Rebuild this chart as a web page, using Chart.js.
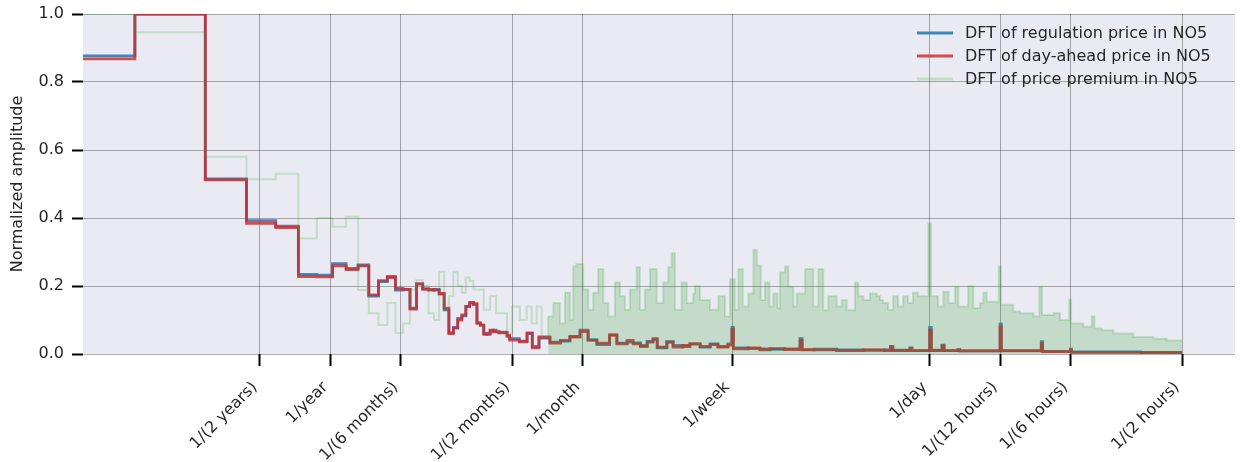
<!DOCTYPE html>
<html>
<head>
<meta charset="utf-8">
<script src="https://cdn.jsdelivr.net/npm/chart.js@4.4.1/dist/chart.umd.min.js"></script>
<style>
  html, body { margin: 0; padding: 0; background: #fff; }
  #wrap { width: 1240px; height: 462px; }
</style>
</head>
<body>
<div id="wrap"><canvas id="dftChart" width="1240" height="462"></canvas></div>
<script>
"use strict";

// bin k = k cycles over the whole record (hourly prices, ~60000 h)
const RECORD_HOURS = 60000;

const tickPeriods = [17520, 8760, 4380, 1460, 730, 168, 24, 12, 6, 2];
const tickLabels = [
  "1/(2 years)", "1/year", "1/(6 months)", "1/(2 months)", "1/month",
  "1/week", "1/day", "1/(12 hours)", "1/(6 hours)", "1/(2 hours)",
];

// first entry is the DC term, drawn off the left edge
const priceBins = [
  0.5, 1, 2, 3, 4, 5, 6, 7, 8, 9,
  10, 11, 12, 13, 14, 15, 16, 17, 18, 19,
  20, 21, 22, 23, 24, 25, 26, 27, 28, 29,
  30, 31, 32, 33, 34, 35, 36, 39, 40, 44,
  47.5, 50, 53.4, 59.5, 66, 72.4, 80, 86.6, 94.5, 107,
  115, 127, 135, 145, 155, 164, 171, 188, 200, 220,
  236, 261, 288, 311, 343, 357, 362, 420, 470, 520,
  600, 698, 712, 800, 1000, 1300, 1600, 1700, 1740, 2060,
  2100, 2500, 2540, 2824, 2880, 3300, 3360, 5000, 5060, 7500,
  7600, 10000, 10100, 20000, 30000,
];
const regulationDft = [
  0.877, 1.0, 0.515, 0.392, 0.376, 0.234, 0.232, 0.266, 0.252, 0.262,
  0.17, 0.213, 0.228, 0.188, 0.19, 0.135, 0.206, 0.192, 0.188, 0.19,
  0.176, 0.13, 0.063, 0.078, 0.105, 0.112, 0.14, 0.152, 0.145, 0.092,
  0.085, 0.058, 0.06, 0.068, 0.07, 0.066, 0.064, 0.052, 0.045, 0.038,
  0.06, 0.022, 0.047, 0.035, 0.038, 0.052, 0.07, 0.042, 0.028, 0.057,
  0.032, 0.035, 0.033, 0.025, 0.037, 0.042, 0.018, 0.036, 0.025, 0.022,
  0.03, 0.02, 0.03, 0.022, 0.03, 0.078, 0.018, 0.016, 0.015, 0.014,
  0.015, 0.045, 0.012, 0.014, 0.012, 0.011, 0.012, 0.022, 0.011, 0.018,
  0.01, 0.078, 0.011, 0.026, 0.01, 0.013, 0.009, 0.088, 0.01, 0.036,
  0.008, 0.014, 0.006, 0.005, 0.005,
];
const dayAheadDft = [
  0.868, 1.0, 0.512, 0.384, 0.372, 0.228, 0.227, 0.259, 0.248, 0.259,
  0.174, 0.216, 0.225, 0.193, 0.19, 0.132, 0.206, 0.19, 0.19, 0.188,
  0.178, 0.135, 0.06, 0.076, 0.1, 0.115, 0.14, 0.15, 0.148, 0.09,
  0.085, 0.06, 0.058, 0.07, 0.065, 0.066, 0.062, 0.055, 0.041, 0.036,
  0.062, 0.018, 0.05, 0.032, 0.04, 0.05, 0.066, 0.04, 0.032, 0.055,
  0.03, 0.04, 0.03, 0.022, 0.035, 0.045, 0.02, 0.035, 0.02, 0.025,
  0.03, 0.022, 0.028, 0.02, 0.026, 0.072, 0.015, 0.018, 0.012, 0.016,
  0.013, 0.04, 0.013, 0.012, 0.01, 0.012, 0.01, 0.02, 0.01, 0.016,
  0.01, 0.07, 0.01, 0.024, 0.01, 0.012, 0.009, 0.08, 0.009, 0.03,
  0.007, 0.012, 0.005, 0.004, 0.004,
];

const premiumBins = [
  0.5, 1, 2, 3, 4, 5, 6, 7, 8, 9,
  10, 11, 12, 13, 14, 15, 16, 17, 18, 19,
  20, 21, 22, 23, 24, 25, 26, 27, 28, 29,
  30, 31, 32, 33, 34, 35, 36, 39, 41, 44.3,
  47.3, 49.7, 52.2, 54.8, 58.5, 61.5, 65.7, 69, 72.4, 74.8,
  77.3, 82.6, 86.8, 91.1, 95.7, 100.6, 105.7, 112.8, 118.5, 124.5,
  130.8, 139.7, 144.3, 151.6, 159.3, 170.2, 181.5, 190.7, 197.2, 203.7,
  217.6, 228.6, 243.9, 248, 260.6, 287.6, 312, 333.4, 350.2, 367,
  380, 397, 420, 441, 456, 474, 494, 516, 536, 558,
  573, 602, 622, 653, 676, 733, 795, 836, 877, 922,
  1001, 1051, 1104, 1198, 1238, 1301, 1389, 1484, 1533, 1580,
  1660, 1745, 1830, 1925, 2020, 2120, 2230, 2467, 2534, 2714,
  2861, 3006, 3209, 3316, 3650, 3843, 4100, 4241, 4385, 4935,
  5047, 5697, 6086, 6938, 7359, 7557, 8448, 9023, 9889, 10056,
  11351, 12329, 12655, 13604, 15251, 18570, 22612, 25800, 30000,
];
const premiumDft = [
  1.0, 0.946, 0.58, 0.514, 0.53, 0.34, 0.40, 0.374, 0.404, 0.188,
  0.12, 0.085, 0.15, 0.062, 0.09, 0.19, 0.218, 0.2, 0.12, 0.1,
  0.242, 0.13, 0.17, 0.242, 0.2, 0.18, 0.225, 0.215, 0.19, 0.19,
  0.19, 0.13, 0.13, 0.17, 0.17, 0.12, 0.12, 0.06, 0.14, 0.1,
  0.14, 0.09, 0.14, 0.05, 0.11, 0.15, 0.09, 0.18, 0.1, 0.257,
  0.265, 0.19, 0.13, 0.18, 0.25, 0.15, 0.11, 0.21, 0.17, 0.13,
  0.19, 0.255, 0.13, 0.19, 0.25, 0.15, 0.21, 0.255, 0.296, 0.13,
  0.21, 0.15, 0.178, 0.2, 0.159, 0.13, 0.17, 0.11, 0.22, 0.13,
  0.25, 0.14, 0.178, 0.306, 0.26, 0.159, 0.21, 0.14, 0.178, 0.135,
  0.24, 0.257, 0.198, 0.14, 0.178, 0.25, 0.14, 0.25, 0.129, 0.17,
  0.14, 0.159, 0.129, 0.21, 0.17, 0.159, 0.178, 0.17, 0.159, 0.15,
  0.13, 0.17, 0.14, 0.17, 0.15, 0.18, 0.17, 0.384, 0.17, 0.14,
  0.183, 0.15, 0.198, 0.14, 0.2, 0.135, 0.15, 0.18, 0.154, 0.257,
  0.145, 0.125, 0.12, 0.11, 0.198, 0.115, 0.12, 0.1, 0.16, 0.09,
  0.08, 0.11, 0.075, 0.07, 0.06, 0.05, 0.045, 0.04, 0.04,
];

// above this bin the premium spectrum is so dense it reads as a filled band
const FILL_FROM_BIN = 55;

const FONT = "'DejaVu Sans', sans-serif";
const INK = "#262626";
const BLUE = "rgba(31,119,180,0.85)";
const RED = "rgba(214,39,40,0.82)";
const GREEN = "rgba(44,160,44,0.2)";

Chart.defaults.font.family = FONT;
Chart.defaults.color = INK;

const toPoints = (bins, vals) => bins.map((k, i) => ({ x: k, y: vals[i] }));

const plotBackground = {
  id: "plotBackground",
  beforeDraw(chart) {
    const { ctx, chartArea: a } = chart;
    ctx.save();
    ctx.fillStyle = "#eaeaf2";
    ctx.fillRect(a.left, a.top, a.right - a.left, a.bottom - a.top);
    ctx.restore();
  },
};

// matplotlib-like legend inside the axes, top right, no frame
const lineLegend = {
  id: "lineLegend",
  afterDraw(chart) {
    const { ctx, chartArea } = chart;
    const x0 = chartArea.right - 318;
    ctx.save();
    ctx.font = `16px ${FONT}`;
    ctx.textBaseline = "middle";
    chart.data.datasets.forEach((ds, row) => {
      const y = chartArea.top + 19 + row * 23;
      ctx.strokeStyle = ds.borderColor;
      ctx.lineWidth = 3;
      ctx.beginPath();
      ctx.moveTo(x0, y);
      ctx.lineTo(x0 + 36, y);
      ctx.stroke();
      ctx.fillStyle = INK;
      ctx.fillText(ds.label, x0 + 48, y + 1);
    });
    ctx.restore();
  },
};

const gridLines = {
  color: "rgba(0,0,0,0.3)",
  lineWidth: 1,
  tickColor: "#000",
  tickWidth: 2,
};

new Chart(document.getElementById("dftChart"), {
  type: "line",
  data: {
    datasets: [
      {
        label: "DFT of regulation price in NO5",
        data: toPoints(priceBins, regulationDft),
        borderColor: BLUE,
        borderWidth: 2.8,
        order: 3,
      },
      {
        label: "DFT of day-ahead price in NO5",
        data: toPoints(priceBins, dayAheadDft),
        borderColor: RED,
        borderWidth: 2.8,
        order: 2,
      },
      {
        label: "DFT of price premium in NO5",
        data: toPoints(premiumBins, premiumDft),
        borderColor: GREEN,
        backgroundColor: GREEN,
        borderWidth: 2,
        fill: "origin",
        segment: {
          backgroundColor: (c) => (c.p0.parsed.x < FILL_FROM_BIN ? "rgba(0,0,0,0)" : GREEN),
        },
        order: 1,
      },
    ],
  },
  options: {
    responsive: false,
    animation: false,
    layout: { padding: { top: 14, right: 5, left: 0, bottom: 0 } },
    elements: {
      line: { stepped: true, tension: 0 },
      point: { radius: 0, hoverRadius: 0 },
    },
    plugins: {
      legend: { display: false },
      tooltip: { enabled: false },
    },
    scales: {
      x: {
        type: "logarithmic",
        min: 0.6,
        max: 50500,
        afterBuildTicks: (scale) => {
          scale.ticks = tickPeriods.map((p) => ({ value: RECORD_HOURS / p }));
        },
        afterFit: (scale) => {
          scale.height = 108;
          scale.paddingLeft = 0;
          scale.paddingRight = 0;
        },
        ticks: {
          autoSkip: false,
          minRotation: 45,
          maxRotation: 45,
          padding: 12,
          labelOffset: -5,
          font: { size: 16 },
          callback: (v, i) => tickLabels[i],
        },
        grid: { ...gridLines, tickLength: 12 },
        border: { display: false },
      },
      y: {
        min: 0,
        max: 1,
        afterFit: (scale) => {
          scale.width = 83;
          scale.paddingTop = 0;
          scale.paddingBottom = 0;
        },
        ticks: {
          stepSize: 0.2,
          padding: 8,
          font: { size: 16 },
          callback: (v) => v.toFixed(1),
        },
        grid: { ...gridLines, tickLength: 11 },
        border: { display: false },
        title: {
          display: true,
          text: "Normalized amplitude",
          font: { size: 16 },
          padding: { top: 8, bottom: 0 },
        },
      },
    },
  },
  plugins: [plotBackground, lineLegend],
});
</script>
</body>
</html>
